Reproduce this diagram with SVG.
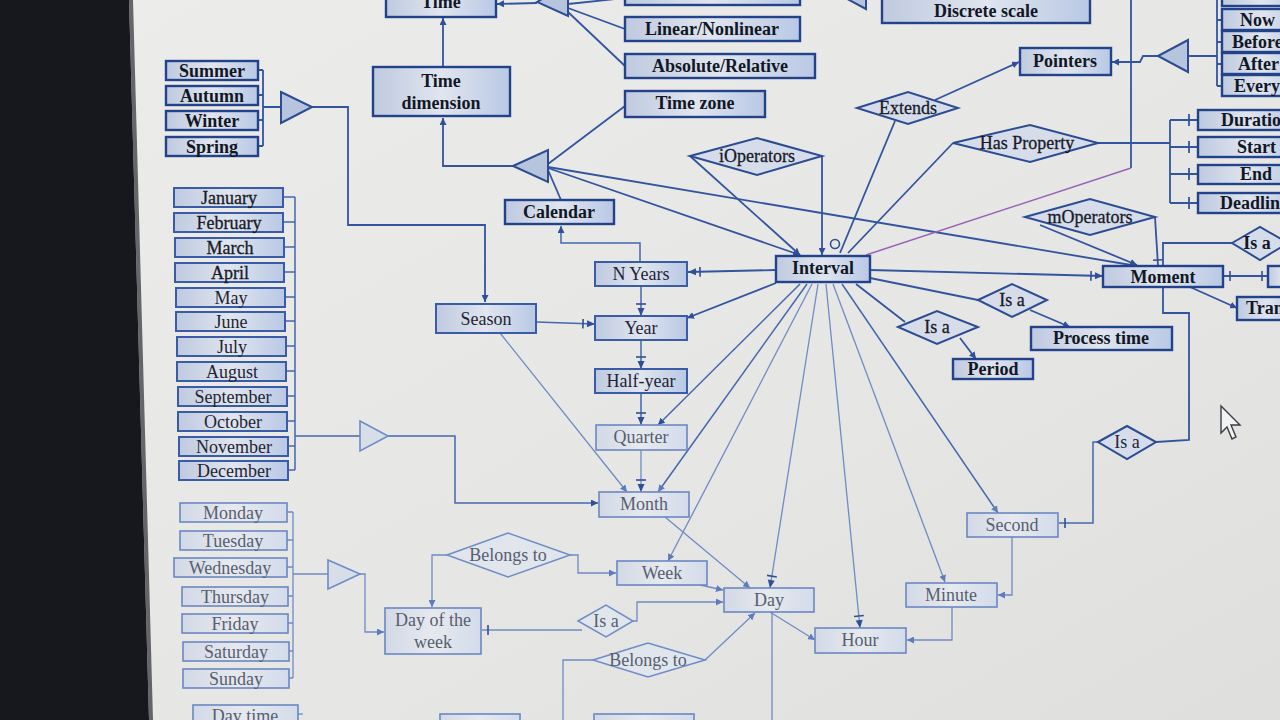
<svg xmlns="http://www.w3.org/2000/svg" width="1280" height="720" viewBox="0 0 1280 720">
  <defs>
    <linearGradient id="screen" x1="0" y1="0" x2="1" y2="1">
      <stop offset="0" stop-color="#ececea"/>
      <stop offset="0.6" stop-color="#e6e6e4"/>
      <stop offset="1" stop-color="#dfdfdd"/>
    </linearGradient>
    <linearGradient id="fillDark" x1="0" y1="0" x2="1" y2="0">
      <stop offset="0" stop-color="#bfcae0"/>
      <stop offset="0.5" stop-color="#e0e5ee"/>
      <stop offset="1" stop-color="#b9c8e5"/>
    </linearGradient>
    <linearGradient id="fillLight" x1="0" y1="0" x2="1" y2="0">
      <stop offset="0" stop-color="#d2d9e6"/>
      <stop offset="0.5" stop-color="#e6e9ee"/>
      <stop offset="1" stop-color="#d3dbea"/>
    </linearGradient>
    <marker id="arr" viewBox="0 0 8 8" refX="8" refY="4" markerWidth="7" markerHeight="7" orient="auto" markerUnits="userSpaceOnUse">
      <path d="M0,0 L8,4 L0,8 z" fill="#2f4f98"/>
    </marker>
    <marker id="arrL" viewBox="0 0 8 8" refX="8" refY="4" markerWidth="7" markerHeight="7" orient="auto" markerUnits="userSpaceOnUse">
      <path d="M0,0 L8,4 L0,8 z" fill="#5c7cbd"/>
    </marker>
    <marker id="tick" viewBox="0 0 10 10" refX="10" refY="5" markerWidth="10" markerHeight="10" orient="auto" markerUnits="userSpaceOnUse">
      <path d="M4,0 L4,10" stroke="#2f4f98" stroke-width="1.6"/>
    </marker>
    <marker id="arrtick" viewBox="0 0 14 10" refX="14" refY="5" markerWidth="14" markerHeight="10" orient="auto" markerUnits="userSpaceOnUse">
      <path d="M2,0 L2,10" stroke="#2f4f98" stroke-width="1.6"/>
      <path d="M6,1.5 L14,5 L6,8.5 z" fill="#2f4f98"/>
    </marker>
  </defs>
  <style>
    .bd{fill:url(#fillDark);stroke:#22428a;stroke-width:2.4}
    .bm{fill:url(#fillDark);stroke:#3a5ba6;stroke-width:2}
    .bl{fill:url(#fillLight);stroke:#6b88c2;stroke-width:1.6}
    .dd{fill:#d6dcea;stroke:#2c4c92;stroke-width:2}
    .dl{fill:#e1e5ec;stroke:#6f8cc4;stroke-width:1.5}
    .tr{fill:#b7c4dd;stroke:#2c4c92;stroke-width:2}
    .trl{fill:#d7deea;stroke:#6f8cc4;stroke-width:1.6}
    text{font-family:"Liberation Serif","Times New Roman",serif;font-size:18px;text-anchor:middle}
    .tb{font-weight:bold;fill:#121726}
    .tm{fill:#1f2433}
    .td{fill:#171b28;stroke:#171b28;stroke-width:0.3}
    .tl{fill:#575e70}
    .ts{text-anchor:start}
    .c{fill:none;stroke:#33549f;stroke-width:1.8}
    .cm{fill:none;stroke:#4567ad;stroke-width:1.5}
    .cl{fill:none;stroke:#6f8cc4;stroke-width:1.3}
    .cp{fill:none;stroke:#9a63b6;stroke-width:1.4}
  </style>

  <!-- screen and bezel -->
  <rect x="0" y="0" width="1280" height="720" fill="url(#screen)"/>
  <polygon points="0,0 129,0 149,720 0,720" fill="#16181d"/>
  <polygon points="129,0 133,0 153,720 149,720" fill="#2c2e34" opacity="0.7"/>

  <!-- connectors -->
  <g id="connectors">
    <!-- Time generalisation -->
    <path class="c" d="M537,3 L497,4" marker-end="url(#arr)"/>
    <path class="c" d="M568,4 L625,-2"/>
    <path class="c" d="M568,8 L625,29"/>
    <path class="c" d="M568,12 L625,66"/>
    <path class="c" d="M443,67 L443,18" marker-end="url(#arr)"/>
    <!-- Time dimension generalisation -->
    <path class="c" d="M513,166 L443,166 L443,118" marker-end="url(#arr)"/>
    <path class="c" d="M548,164 L625,106"/>
    <path class="c" d="M548,170 L561,200"/>
    <path class="c" d="M548,168 L800,255" marker-end="url(#arr)"/>
    <path class="c" d="M548,167 L1137,266" marker-end="url(#arr)"/>
    <!-- Calendar / N Years -->
    <path class="cm" d="M640,262 L640,243 L561,243 L561,226" marker-end="url(#arr)"/>
    <!-- seasons -->
    <path class="c" d="M258,70 L263,70 M258,95 L263,95 M258,120 L263,120 M258,146 L263,146 M263,70 L263,146 M263,107 L281,107"/>
    <path class="c" d="M312,107 L348,107 L348,225 L485,225 L485,302" marker-end="url(#arr)"/>
    <!-- months -->
    <path class="cm" d="M283,197 L295,197 M283,222 L295,222 M284,247 L295,247 M284,272 L295,272 M285,297 L295,297 M285,321 L295,321 M286,346 L295,346 M286,371 L295,371 M287,396 L295,396 M287,421 L295,421 M288,446 L295,446 M288,470 L295,470 M295,197 L295,470 M295,436 L360,436"/>
    <path class="cm" d="M388,436 L455,436 L455,503 L598,503" marker-end="url(#arr)"/>
    <!-- weekdays -->
    <path class="cl" d="M287,512 L293,512 M287,540 L293,540 M287,567 L293,567 M288,596 L293,596 M288,623 L293,623 M289,651 L293,651 M289,678 L293,678 M293,512 L293,678 M293,574 L328,574"/>
    <path class="cl" d="M360,574 L365,574 L365,632 L384,632" marker-end="url(#arrL)"/>
    <path class="cl" d="M298,714 L303,714"/>
    <!-- calendar units chain -->
    <path class="cm" d="M536,322 L595,324" marker-end="url(#arrtick)"/>
    <path class="cl" d="M500,333 L627,492" marker-end="url(#arrL)"/>
    <path class="cm" d="M641,286 L641,316" marker-end="url(#arrtick)"/>
    <path class="cm" d="M641,340 L641,369" marker-end="url(#arrtick)"/>
    <path class="cm" d="M641,393 L641,425" marker-end="url(#arrtick)"/>
    <path class="cl" d="M641,450 L641,492" marker-end="url(#arrtick)"/>
    <!-- Interval links -->
    <path class="c" d="M776,270 L688,272" marker-end="url(#arrtick)"/>
    <path class="c" d="M776,283 L687,318" marker-end="url(#arr)"/>
    <path class="cm" d="M800,284 L658,425" marker-end="url(#arr)"/>
    <path class="cm" d="M807,284 L658,492" marker-end="url(#arrL)"/>
    <path class="cl" d="M812,284 L668,561" marker-end="url(#arrL)"/>
    <path class="cl" d="M818,284 L770,588" marker-end="url(#arrtick)"/>
    <path class="cl" d="M826,284 L860,628" marker-end="url(#arrtick)"/>
    <path class="cl" d="M833,284 L945,582" marker-end="url(#arrL)"/>
    <path class="cm" d="M842,284 L998,513" marker-end="url(#arrL)"/>
    <path class="c" d="M856,284 L905,322"/>
    <path class="c" d="M960,338 L976,359" marker-end="url(#arr)"/>
    <path class="c" d="M870,278 L978,300"/>
    <path class="c" d="M1030,310 L1070,327" marker-end="url(#arr)"/>
    <path class="c" d="M870,270 L1103,276" marker-end="url(#arrtick)"/>
    <!-- operators, extends, properties -->
    <path class="c" d="M690,156 L800,255" marker-end="url(#arr)"/>
    <path class="c" d="M822,156 L822,255" marker-end="url(#arr)"/>
    <path class="c" d="M935,100 L1019,62" marker-end="url(#arr)"/>
    <path class="c" d="M895,121 L840,253"/>
    <path class="c" d="M953,143 L848,253"/>
    <circle cx="835" cy="244" r="4.5" fill="none" stroke="#2f4f98" stroke-width="1.6"/>
    <path class="c" d="M1098,143 L1170,143 M1170,120 L1170,203 M1170,120 L1197,120 M1170,147 L1197,147 M1170,174 L1197,174 M1170,203 L1197,203"/>
    <path class="c" d="M1189,114 L1189,126 M1189,141 L1189,153 M1189,168 L1189,180 M1189,197 L1189,209"/>
    <!-- pointers -->
    <path class="c" d="M1158,56 L1143,56 L1140,62 L1112,62" marker-end="url(#arr)"/>
    <path class="c" d="M1188,56 L1217,56 M1217,-4 L1217,86 M1217,-3 L1222,-3 M1217,20 L1222,20 M1217,42 L1222,42 M1217,64 L1222,64 M1217,86 L1222,86"/>
    <path class="c" d="M1131,-2 L1131,168"/>
    <path class="cp" d="M1131,168 L866,255"/>
    <!-- Moment -->
    <path class="c" d="M1040,225 L1137,265" marker-end="url(#arr)"/>
    <path class="c" d="M1155,217 L1158,266" marker-end="url(#tick)"/>
    <path class="c" d="M1232,243 L1163,243 L1163,266"/>
    <path class="c" d="M1223,276 L1268,276" marker-end="url(#tick)"/>
    <path class="c" d="M1230,276 L1236,276" marker-end="url(#tick)"/>
    <path class="c" d="M1190,287 L1237,308" marker-end="url(#arr)"/>
    <path class="c" d="M1163,287 L1163,313 L1189,313 L1189,440 L1156,442"/>
    <path class="cm" d="M1098,442 L1093,442 L1093,523 L1059,523" marker-end="url(#tick)"/>
    <!-- time-of-day units -->
    <path class="cl" d="M1012,537 L1012,595 L998,595" marker-end="url(#arrL)"/>
    <path class="cl" d="M952,607 L952,640 L907,640" marker-end="url(#arrL)"/>
    <path class="cl" d="M770,612 L815,640" marker-end="url(#arrL)"/>
    <path class="cl" d="M772,612 L772,722"/>
    <path class="cl" d="M665,517 L750,588" marker-end="url(#arrL)"/>
    <path class="cl" d="M700,585 L723,590" marker-end="url(#arrL)"/>
    <!-- week / day relations -->
    <path class="cl" d="M570,555 L578,555 L578,573 L616,573" marker-end="url(#arrL)"/>
    <path class="cl" d="M447,555 L432,555 L432,607" marker-end="url(#arrL)"/>
    <path class="cl" d="M582,630 L482,630" marker-end="url(#tick)"/>
    <path class="cl" d="M633,621 L637,621 L637,602 L723,602" marker-end="url(#arrL)"/>
    <path class="cl" d="M705,660 L755,613" marker-end="url(#arrL)"/>
    <path class="cl" d="M593,660 L563,660 L563,722"/>
  </g>

  <!-- generalisation triangles -->
  <g id="gen-time"><polygon class="tr" points="537,2 568,-16 568,16"/></g>
  <g id="gen-top"><polygon class="tr" points="838,-6 866,9 866,-20"/></g>
  <g id="gen-dimension"><polygon class="tr" points="513,166 548,150 548,182"/></g>
  <g id="gen-season"><polygon class="tr" points="281,92 312,107 281,123"/></g>
  <g id="gen-month"><polygon class="trl" points="360,421 388,436 360,451"/></g>
  <g id="gen-weekday"><polygon class="trl" points="328,560 360,574 328,589"/></g>
  <g id="gen-pointers"><polygon class="tr" points="1158,56 1188,40 1188,72"/></g>

  <!-- top entities -->
  <g id="time"><rect class="bd" x="386" y="-12" width="110" height="29"/><text class="tb" x="441" y="8">Time</text></g>
  <g id="top-attr"><rect class="bd" x="625" y="-14" width="175" height="19"/></g>
  <g id="linear"><rect class="bd" x="625" y="17" width="175" height="24"/><text class="tb" x="712" y="35">Linear/Nonlinear</text></g>
  <g id="absolute"><rect class="bd" x="625" y="54" width="190" height="24"/><text class="tb" x="720" y="72">Absolute/Relative</text></g>
  <g id="timezone"><rect class="bd" x="625" y="91" width="140" height="26"/><text class="tb" x="695" y="109">Time zone</text></g>
  <g id="discrete"><rect class="bd" x="882" y="-6" width="208" height="29"/><text class="tb" x="986" y="17">Discrete scale</text></g>
  <g id="time-dimension"><rect class="bd" x="373" y="67" width="137" height="49"/><text class="tb" x="441" y="87">Time</text><text class="tb" x="441" y="109">dimension</text></g>
  <g id="calendar"><rect class="bd" x="505" y="200" width="109" height="24"/><text class="tb" x="559" y="218">Calendar</text></g>
  <g id="pointers"><rect class="bd" x="1020" y="48" width="91" height="27"/><text class="tb" x="1065" y="67">Pointers</text></g>

  <!-- pointer kinds -->
  <g id="ptr-top"><rect class="bd" x="1222" y="-14" width="80" height="20"/></g>
  <g id="ptr-now"><rect class="bd" x="1222" y="9" width="80" height="21"/><text class="tb ts" x="1240" y="26">Now</text></g>
  <g id="ptr-before"><rect class="bd" x="1222" y="31" width="80" height="21"/><text class="tb ts" x="1232" y="48">Before</text></g>
  <g id="ptr-after"><rect class="bd" x="1222" y="53" width="80" height="21"/><text class="tb ts" x="1238" y="70">After</text></g>
  <g id="ptr-every"><rect class="bd" x="1222" y="75" width="80" height="21"/><text class="tb ts" x="1234" y="92">Every</text></g>

  <!-- properties -->
  <g id="duration"><rect class="bd" x="1198" y="110" width="100" height="20"/><text class="tb ts" x="1221" y="126">Duration</text></g>
  <g id="start"><rect class="bd" x="1198" y="137" width="100" height="20"/><text class="tb ts" x="1237" y="153">Start</text></g>
  <g id="end"><rect class="bd" x="1198" y="165" width="100" height="19"/><text class="tb ts" x="1240" y="180">End</text></g>
  <g id="deadline"><rect class="bd" x="1198" y="193" width="100" height="20"/><text class="tb ts" x="1220" y="209">Deadline</text></g>

  <!-- relationships (top) -->
  <g id="ioperators"><polygon class="dd" points="690,156 757,138 822,156 757,175"/><text class="td" x="757" y="162">iOperators</text></g>
  <g id="extends"><polygon class="dd" points="857,108 908,92 958,108 908,124"/><text class="td" x="908" y="114">Extends</text></g>
  <g id="has-property"><polygon class="dd" points="953,143 1030,125 1098,143 1030,162"/><text class="td" x="1027" y="149">Has Property</text></g>
  <g id="moperators"><polygon class="dd" points="1025,217 1090,199 1155,217 1090,235"/><text class="td" x="1090" y="223">mOperators</text></g>
  <g id="isa-moment"><polygon class="dd" points="1232,243 1260,227 1288,243 1260,260"/><text class="tb" x="1257" y="249">Is a</text></g>
  <g id="isa-process"><polygon class="dd" points="978,300 1012,284 1047,300 1012,317"/><text class="td" x="1012" y="306">Is a</text></g>
  <g id="isa-period"><polygon class="dd" points="898,327 937,311 978,327 937,344"/><text class="td" x="937" y="333">Is a</text></g>
  <g id="isa-second"><polygon class="dd" points="1098,442 1127,426 1156,442 1127,459"/><text class="tm" x="1127" y="448">Is a</text></g>

  <!-- core entities -->
  <g id="interval"><rect class="bd" x="776" y="256" width="94" height="26"/><text class="tb" x="823" y="274">Interval</text></g>
  <g id="moment"><rect class="bd" x="1103" y="266" width="120" height="21"/><text class="tb" x="1163" y="283">Moment</text></g>
  <g id="moment-right"><rect class="bd" x="1268" y="266" width="30" height="21"/></g>
  <g id="tran"><rect class="bd" x="1237" y="297" width="60" height="23"/><text class="tb ts" x="1246" y="314">Tran</text></g>
  <g id="process-time"><rect class="bd" x="1031" y="327" width="141" height="23"/><text class="tb" x="1101" y="344">Process time</text></g>
  <g id="period"><rect class="bd" x="953" y="359" width="80" height="20"/><text class="tb" x="993" y="375">Period</text></g>

  <!-- seasons -->
  <g id="summer"><rect class="bd" x="166" y="61" width="92" height="19"/><text class="tb" x="212" y="77">Summer</text></g>
  <g id="autumn"><rect class="bd" x="166" y="86" width="92" height="19"/><text class="tb" x="212" y="102">Autumn</text></g>
  <g id="winter"><rect class="bd" x="166" y="111" width="92" height="19"/><text class="tb" x="212" y="127">Winter</text></g>
  <g id="spring"><rect class="bd" x="166" y="137" width="92" height="19"/><text class="tb" x="212" y="153">Spring</text></g>

  <!-- months -->
  <g id="january"><rect class="bm" x="174" y="188" width="109" height="19"/><text class="td" x="229" y="204">January</text></g>
  <g id="february"><rect class="bm" x="174" y="213" width="109" height="19"/><text class="td" x="229" y="229">February</text></g>
  <g id="march"><rect class="bm" x="175" y="238" width="109" height="19"/><text class="td" x="230" y="254">March</text></g>
  <g id="april"><rect class="bm" x="175" y="263" width="109" height="19"/><text class="td" x="230" y="279">April</text></g>
  <g id="may"><rect class="bm" x="176" y="288" width="109" height="19"/><text class="tm" x="231" y="304">May</text></g>
  <g id="june"><rect class="bm" x="176" y="312" width="109" height="19"/><text class="tm" x="231" y="328">June</text></g>
  <g id="july"><rect class="bm" x="177" y="337" width="109" height="19"/><text class="tm" x="232" y="353">July</text></g>
  <g id="august"><rect class="bm" x="177" y="362" width="109" height="19"/><text class="tm" x="232" y="378">August</text></g>
  <g id="september"><rect class="bm" x="178" y="387" width="109" height="19"/><text class="tm" x="233" y="403">September</text></g>
  <g id="october"><rect class="bm" x="178" y="412" width="109" height="19"/><text class="tm" x="233" y="428">October</text></g>
  <g id="november"><rect class="bm" x="179" y="437" width="109" height="19"/><text class="tm" x="234" y="453">November</text></g>
  <g id="december"><rect class="bm" x="179" y="461" width="109" height="19"/><text class="tm" x="234" y="477">December</text></g>

  <!-- weekdays -->
  <g id="monday"><rect class="bl" x="180" y="503" width="107" height="19"/><text class="tl" x="233" y="519">Monday</text></g>
  <g id="tuesday"><rect class="bl" x="180" y="531" width="107" height="19"/><text class="tl" x="233" y="547">Tuesday</text></g>
  <g id="wednesday"><rect class="bl" x="174" y="558" width="113" height="19"/><text class="tl" x="230" y="574">Wednesday</text></g>
  <g id="thursday"><rect class="bl" x="182" y="587" width="106" height="19"/><text class="tl" x="235" y="603">Thursday</text></g>
  <g id="friday"><rect class="bl" x="182" y="614" width="106" height="19"/><text class="tl" x="235" y="630">Friday</text></g>
  <g id="saturday"><rect class="bl" x="183" y="642" width="106" height="19"/><text class="tl" x="236" y="658">Saturday</text></g>
  <g id="sunday"><rect class="bl" x="183" y="669" width="106" height="19"/><text class="tl" x="236" y="685">Sunday</text></g>
  <g id="day-time"><rect class="bl" x="193" y="705" width="105" height="30"/><text class="tl" x="245" y="722">Day time</text></g>
  <g id="bottom-a"><rect class="bl" x="440" y="714" width="80" height="20"/></g>
  <g id="bottom-b"><rect class="bl" x="594" y="714" width="100" height="20"/></g>

  <!-- calendar units -->
  <g id="season"><rect class="bm" x="436" y="304" width="100" height="29"/><text class="tm" x="486" y="325">Season</text></g>
  <g id="n-years"><rect class="bm" x="595" y="262" width="92" height="24"/><text class="tm" x="641" y="280">N Years</text></g>
  <g id="year"><rect class="bm" x="595" y="316" width="92" height="24"/><text class="tm" x="641" y="334">Year</text></g>
  <g id="half-year"><rect class="bm" x="595" y="369" width="92" height="24"/><text class="tm" x="641" y="387">Half-year</text></g>
  <g id="quarter"><rect class="bl" x="596" y="425" width="91" height="25"/><text class="tl" x="641" y="443">Quarter</text></g>
  <g id="month"><rect class="bl" x="599" y="492" width="90" height="25"/><text class="tl" x="644" y="510">Month</text></g>
  <g id="week"><rect class="bl" x="617" y="561" width="90" height="24"/><text class="tl" x="662" y="579">Week</text></g>
  <g id="day"><rect class="bl" x="724" y="588" width="90" height="24"/><text class="tl" x="769" y="606">Day</text></g>
  <g id="hour"><rect class="bl" x="815" y="628" width="91" height="25"/><text class="tl" x="860" y="646">Hour</text></g>
  <g id="minute"><rect class="bl" x="906" y="583" width="91" height="24"/><text class="tl" x="951" y="601">Minute</text></g>
  <g id="second"><rect class="bl" x="967" y="513" width="91" height="24"/><text class="tl" x="1012" y="531">Second</text></g>
  <g id="day-of-week"><rect class="bl" x="385" y="608" width="96" height="46"/><text class="tl" x="433" y="626">Day of the</text><text class="tl" x="433" y="648">week</text></g>

  <!-- relationships (lower) -->
  <g id="belongs-week"><polygon class="dl" points="447,555 508,533 570,555 508,577"/><text class="tl" x="508" y="561">Belongs to</text></g>
  <g id="isa-day"><polygon class="dl" points="578,621 606,605 633,621 606,637"/><text class="tl" x="606" y="627">Is a</text></g>
  <g id="belongs-day"><polygon class="dl" points="593,660 648,643 705,660 648,677"/><text class="tl" x="648" y="666">Belongs to</text></g>

  <!-- mouse pointer -->
  <path d="M1221,406 L1221,433 L1227,427 L1232,439 L1236,437 L1231,425 L1240,425 Z" fill="#f2f2f2" stroke="#3a3d48" stroke-width="1.4"/>
</svg>
